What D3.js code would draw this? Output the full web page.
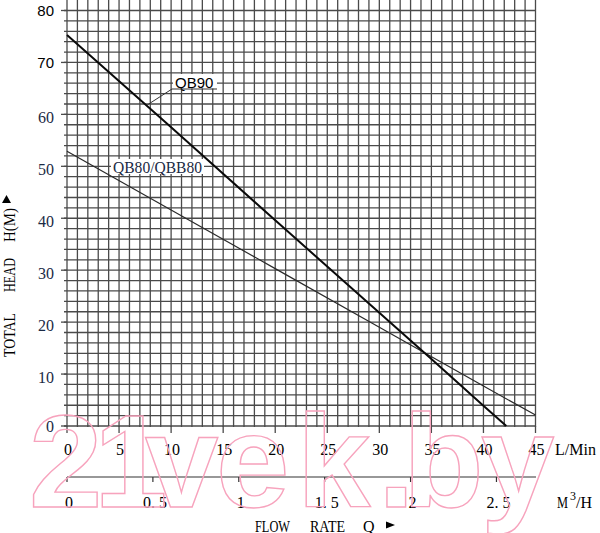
<!DOCTYPE html>
<html>
<head>
<meta charset="utf-8">
<script src="https://cdn.jsdelivr.net/npm/d3@7"></script>
<style>
  body { margin: 0; background: #fff; }
  svg { display: block; }
</style>
</head>
<body>
<svg id="chart" width="600" height="533"></svg>
<script>
// Pump curves: flow in L/min, head in metres
const flowQB90 = [0, 10, 20, 30, 35, 40, 42.2];
const headQB90 = [75.3, 57.5, 39.6, 21.8, 12.9, 3.9, 0];
const flowQB80 = [0, 10, 20, 30, 40, 45];
const headQB80 = [52.9, 41.6, 30.3, 19.0, 7.7, 2.1];

const seriesNames = ['QB90', 'QB80/QBB80'];

// Axis ticks
const headTicks = [0, 10, 20, 30, 40, 50, 60, 70, 80];
const flowTicks = [0, 5, 10, 15, 20, 25, 30, 35, 40, 45];
const m3Ticks = [0, 0.5, 1, 1.5, 2, 2.5];
const m3Labels = ['0', '0. 5', '1', '1. 5', '2', '2. 5'];

const SERIF = '"Liberation Serif", "DejaVu Serif", serif';
const SANS = '"Liberation Sans", Arial, sans-serif';

const svg = d3.select('#chart');

// Scales
const x = d3.scaleLinear().domain([0, 45]).range([67, 535.5]);
const y = d3.scaleLinear().domain([0, 80]).range([426, 10.5]);
// second flow axis in m3/h (approx. 16.5 L/min per m3/h as drawn)
const m3 = d3.scaleLinear().domain([0, 45 / 16.5]).range(x.range());

const gridColor = '#4a4a4a';

// Grid
const grid = svg.append('g').attr('stroke', gridColor).attr('stroke-width', 1.3);
grid.selectAll('line.v')
  .data(d3.range(0, 46, 1))
  .join('line')
  .attr('class', 'v')
  .attr('x1', d => x(d)).attr('x2', d => x(d))
  .attr('y1', y(82)).attr('y2', y(0) + 1);
grid.selectAll('line.h')
  .data(d3.range(0, 81, 2))
  .join('line')
  .attr('class', 'h')
  .attr('x1', x(0) - 3).attr('x2', x(45))
  .attr('y1', d => y(d)).attr('y2', d => y(d));

// Major ticks on the left and bottom
grid.selectAll('line.ty')
  .data(headTicks)
  .join('line')
  .attr('class', 'ty')
  .attr('x1', x(0) - 6).attr('x2', x(0))
  .attr('y1', d => y(d)).attr('y2', d => y(d));
grid.selectAll('line.tx')
  .data(flowTicks)
  .join('line')
  .attr('class', 'tx')
  .attr('x1', d => x(d)).attr('x2', d => x(d))
  .attr('y1', y(0)).attr('y2', y(0) + 7);

// Label backgrounds (the labels blank out the grid)
svg.append('rect').attr('x', 173).attr('y', 74).attr('width', 44).attr('height', 14.5).attr('fill', '#fff');
svg.append('rect').attr('x', 111).attr('y', 159).attr('width', 93).attr('height', 15).attr('fill', '#fff');

// Curves
const line = d3.line().x(d => x(d[0])).y(d => y(d[1]));
svg.append('path')
  .datum(d3.zip(flowQB80, headQB80))
  .attr('d', line)
  .attr('fill', 'none')
  .attr('stroke', '#2a2a2a')
  .attr('stroke-width', 1.2);
svg.append('path')
  .datum(d3.zip(flowQB90, headQB90))
  .attr('d', line)
  .attr('fill', 'none')
  .attr('stroke', '#0a0a0a')
  .attr('stroke-width', 2);

// Series labels
svg.append('text')
  .attr('x', 175).attr('y', 87.5)
  .attr('font-family', SANS).attr('font-size', 15)
  .text(seriesNames[0]);
svg.append('path')
  .attr('d', `M${x(7.7)},${y(61.8)}L172,89L217,89`)
  .attr('fill', 'none').attr('stroke', '#333').attr('stroke-width', 1);
svg.append('text')
  .attr('x', 113).attr('y', 172.5)
  .attr('font-family', SERIF).attr('font-size', 16)
  .attr('fill', '#1a2a44')
  .attr('textLength', 89).attr('lengthAdjust', 'spacingAndGlyphs')
  .text(seriesNames[1]);

// Y tick labels
svg.append('g').selectAll('text')
  .data(headTicks)
  .join('text')
  .attr('x', 54)
  .attr('y', d => d >= 70 ? y(d) + 5.5 : (d === 0 ? y(d) + 6 : y(d) + 9))
  .attr('text-anchor', 'end')
  .attr('font-family', d => d >= 70 ? SANS : SERIF)
  .attr('font-size', d => d >= 70 ? 15 : 16)
  .attr('fill', d => d >= 70 ? '#000' : '#1a2a44')
  .text(d => d);

// X tick labels (L/min)
svg.append('g').selectAll('text')
  .data(flowTicks)
  .join('text')
  .attr('x', d => x(d) + 1)
  .attr('y', 455)
  .attr('text-anchor', 'middle')
  .attr('font-family', SERIF).attr('font-size', 16)
  .text(d => d);
svg.append('text')
  .attr('x', 555).attr('y', 455)
  .attr('font-family', SERIF).attr('font-size', 16)
  .text('L/Min');

// Second axis (m3/h)
const axis2 = svg.append('g').attr('stroke', '#333').attr('stroke-width', 1.2);
axis2.append('line')
  .attr('x1', x(0)).attr('x2', x(45) + 0.5)
  .attr('y1', 477).attr('y2', 477);
axis2.selectAll('line.t')
  .data(m3Ticks)
  .join('line')
  .attr('class', 't')
  .attr('x1', d => m3(d)).attr('x2', d => m3(d))
  .attr('y1', 477).attr('y2', 482);
svg.append('g').selectAll('text')
  .data(m3Ticks)
  .join('text')
  .attr('x', d => m3(d) + 2)
  .attr('y', 508)
  .attr('text-anchor', 'middle')
  .attr('font-family', SERIF).attr('font-size', 16)
  .text((d, i) => m3Labels[i]);
const unit = svg.append('g').attr('font-family', SERIF).attr('font-size', 16);
unit.append('text').attr('x', 557).attr('y', 508)
  .attr('textLength', 11).attr('lengthAdjust', 'spacingAndGlyphs').text('M');
unit.append('text').attr('x', 570).attr('y', 500).attr('font-size', 12).text('3');
unit.append('text').attr('x', 576).attr('y', 508).text('/H');

// Axis titles
const xTitle = svg.append('g').attr('font-family', SERIF).attr('font-size', 16);
xTitle.append('text').attr('x', 255).attr('y', 531.5)
  .attr('textLength', 35).attr('lengthAdjust', 'spacingAndGlyphs').text('FLOW');
xTitle.append('text').attr('x', 310).attr('y', 531.5)
  .attr('textLength', 35).attr('lengthAdjust', 'spacingAndGlyphs').text('RATE');
xTitle.append('text').attr('x', 363).attr('y', 531.5).text('Q');
svg.append('path').attr('d', 'M386,521.5L395,525L386,528.5Z').attr('fill', '#000');

const yTitle = svg.append('g').attr('font-family', SERIF).attr('font-size', 16);
[['TOTAL', 335, 44], ['HEAD', 275, 34], ['H(M)', 225, 34]].forEach(([w, cy, len]) => {
  yTitle.append('text')
    .attr('transform', `translate(15,${cy}) rotate(-90)`)
    .attr('x', -len / 2)
    .attr('textLength', len).attr('lengthAdjust', 'spacingAndGlyphs')
    .text(w);
});
svg.append('path').attr('d', 'M2,203L11,203L6.5,195Z').attr('fill', '#000');

// Watermark
svg.append('text')
  .attr('x', '29 94 145 216 297 378 403 481')
  .attr('y', 507)
  .attr('font-family', SANS).attr('font-weight', 'bold').attr('font-size', 132)
  .attr('fill', 'none')
  .attr('stroke', '#f7a3bd').attr('stroke-width', 1.4)
  .text('21vek.by');
</script>
</body>
</html>
